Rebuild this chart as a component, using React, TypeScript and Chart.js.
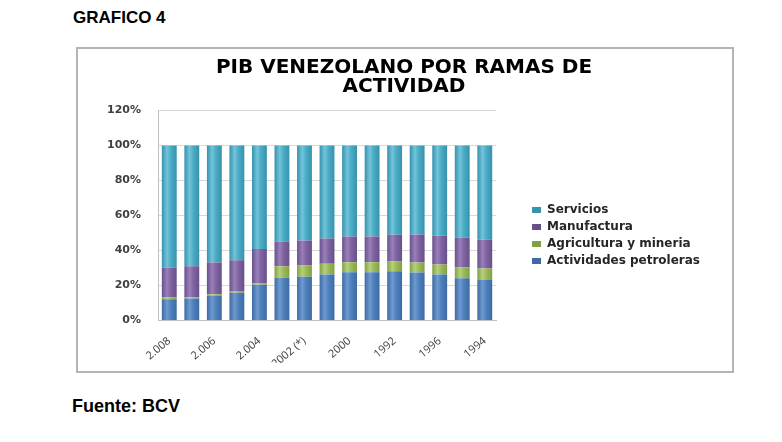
import React, { useEffect, useRef } from "react";
import { Chart, registerables } from "chart.js";

Chart.register(...registerables);

// ---- data ----
const categories = [
  "2008", "2007", "2006", "2005", "2004", "2003", "2002", "2001",
  "2000", "1999", "1998", "1997", "1996", "1995", "1994",
];
const tickLabels = [
  "2.008", "", "2.006", "", "2.004", "", "2002 (*)", "",
  "2000", "", "1992", "", "1996", "", "1994",
];
const petroleras = [12.2, 12.6, 14.3, 15.8, 20.4, 24.4, 25.0, 26.3, 27.6, 27.6, 28.2, 27.4, 26.3, 24.2, 23.2];
const agricultura = [0.9, 0.7, 0.7, 1.0, 0.7, 6.6, 6.4, 6.1, 5.7, 5.7, 5.5, 5.7, 5.7, 6.1, 6.5];
const manufactura = [17.0, 17.7, 18.1, 17.7, 19.7, 14.1, 14.3, 14.5, 14.7, 14.7, 15.3, 16.0, 16.4, 17.1, 16.4];
const servicios = [69.9, 69.0, 66.9, 65.5, 59.2, 54.9, 54.3, 53.1, 52.0, 52.0, 51.0, 50.9, 51.6, 52.6, 53.9];
const yTicks = [0, 20, 40, 60, 80, 100, 120];

// ---- styles: [edge, main, highlight] ----
const BAR_FRACTION = 0.66;
const cPetro = ["#3d6aa3", "#4f81bd", "#6f9ad0"];
const cAgri = ["#80a044", "#9bbb59", "#b6d07c"];
const cManuf = ["#67508a", "#8064a2", "#9a80ba"];
const cServ = ["#3692ad", "#4bacc6", "#72c4da"];

const shade = (c: string[]) => (ctx: any) => {
  const chart = ctx.chart;
  const xs = chart.scales && chart.scales.x;
  if (ctx.type !== "data" || !chart.chartArea || !xs) return c[1];
  const x = xs.getPixelForValue(ctx.dataIndex);
  const w = (xs.width / categories.length) * BAR_FRACTION;
  if (!isFinite(x) || !isFinite(w) || w <= 0) return c[1];
  const g = chart.ctx.createLinearGradient(x - w / 2, 0, x + w / 2, 0);
  g.addColorStop(0, c[0]);
  g.addColorStop(0.35, c[2]);
  g.addColorStop(0.6, c[1]);
  g.addColorStop(1, c[0]);
  return g;
};

export default function App() {
  const ref = useRef<HTMLCanvasElement | null>(null);

  useEffect(() => {
    document.body.style.margin = "0";
    if (!ref.current) return;
    const common = { barPercentage: BAR_FRACTION, categoryPercentage: 1.0, borderWidth: 0 };
    const chart = new Chart(ref.current, {
      type: "bar",
      data: {
        labels: categories,
        datasets: [
          { label: "Actividades petroleras", data: petroleras, backgroundColor: shade(cPetro), ...common },
          { label: "Agricultura y mineria", data: agricultura, backgroundColor: shade(cAgri), ...common },
          { label: "Manufactura", data: manufactura, backgroundColor: shade(cManuf), ...common },
          { label: "Servicios", data: servicios, backgroundColor: shade(cServ), ...common },
        ],
      },
      options: {
        animation: false,
        responsive: true,
        maintainAspectRatio: false,
        layout: { padding: { left: 20, right: 22, top: 0, bottom: 8 } },
        plugins: {
          tooltip: { enabled: false },
          title: {
            display: true,
            text: ["PIB VENEZOLANO POR RAMAS DE", "ACTIVIDAD"],
            color: "#000000",
            font: { family: "DejaVu Sans", size: 20, weight: "bold", lineHeight: "19px" },
            padding: { top: 9, bottom: 14.5 },
          },
          legend: {
            position: "right",
            reverse: true,
            maxWidth: 260,
            title: { display: true, text: " ", font: { size: 10 }, padding: { top: 24, bottom: 23 } },
            labels: {
              boxWidth: 9,
              boxHeight: 6,
              padding: 5,
              color: "#262626",
              font: { family: "DejaVu Sans", size: 12, weight: "bold" },
            },
          },
        },
        scales: {
          x: {
            stacked: true,
            grid: { display: false },
            border: { display: true, color: "#bfbfbf" },
            ticks: {
              autoSkip: false,
              maxRotation: 40,
              minRotation: 40,
              padding: 6,
              color: "#404040",
              font: { family: "Open Sans", size: 11 },
              callback: (_v: any, i: number) => tickLabels[i],
            },
            afterFit: (s: any) => { s.height = 42.5; },
          },
          y: {
            stacked: true,
            min: 0,
            max: 120,
            afterBuildTicks: (s: any) => { s.ticks = yTicks.map((v) => ({ value: v })); },
            grid: { color: "#d9d9d9", drawTicks: false },
            border: { color: "#bfbfbf" },
            ticks: {
              padding: 17,
              color: "#404040",
              font: { family: "DejaVu Sans", size: 11, weight: "bold" },
              callback: (v: any) => v + "%",
            },
            afterFit: (s: any) => { s.width = 60; },
          },
          yRight: {
            type: "linear",
            position: "right",
            display: true,
            grid: { display: false },
            border: { display: false },
            ticks: { display: false },
            afterFit: (s: any) => { s.width = 31; },
          },
        },
      },
    } as any);
    return () => chart.destroy();
  }, []);

  return (
    <div style={{ position: "relative", width: 782, height: 442, background: "#ffffff", overflow: "hidden" }}>
      <div
        style={{
          position: "absolute", left: 73, top: 8, lineHeight: "17px",
          font: 'bold 17px "Liberation Sans", Arial, sans-serif', color: "#000",
        }}
      >
        GRAFICO 4
      </div>
      <div
        style={{
          position: "absolute", left: 76, top: 47, width: 654, height: 322,
          border: "2px solid #b4b4b4", background: "#ffffff",
        }}
      >
        <div style={{ position: "relative", width: "100%", height: "100%" }}>
          <canvas ref={ref} />
        </div>
      </div>
      <div
        style={{
          position: "absolute", left: 72, top: 396, lineHeight: "18px",
          font: 'bold 18px "Liberation Sans", Arial, sans-serif', color: "#000",
        }}
      >
        Fuente: BCV
      </div>
    </div>
  );
}
